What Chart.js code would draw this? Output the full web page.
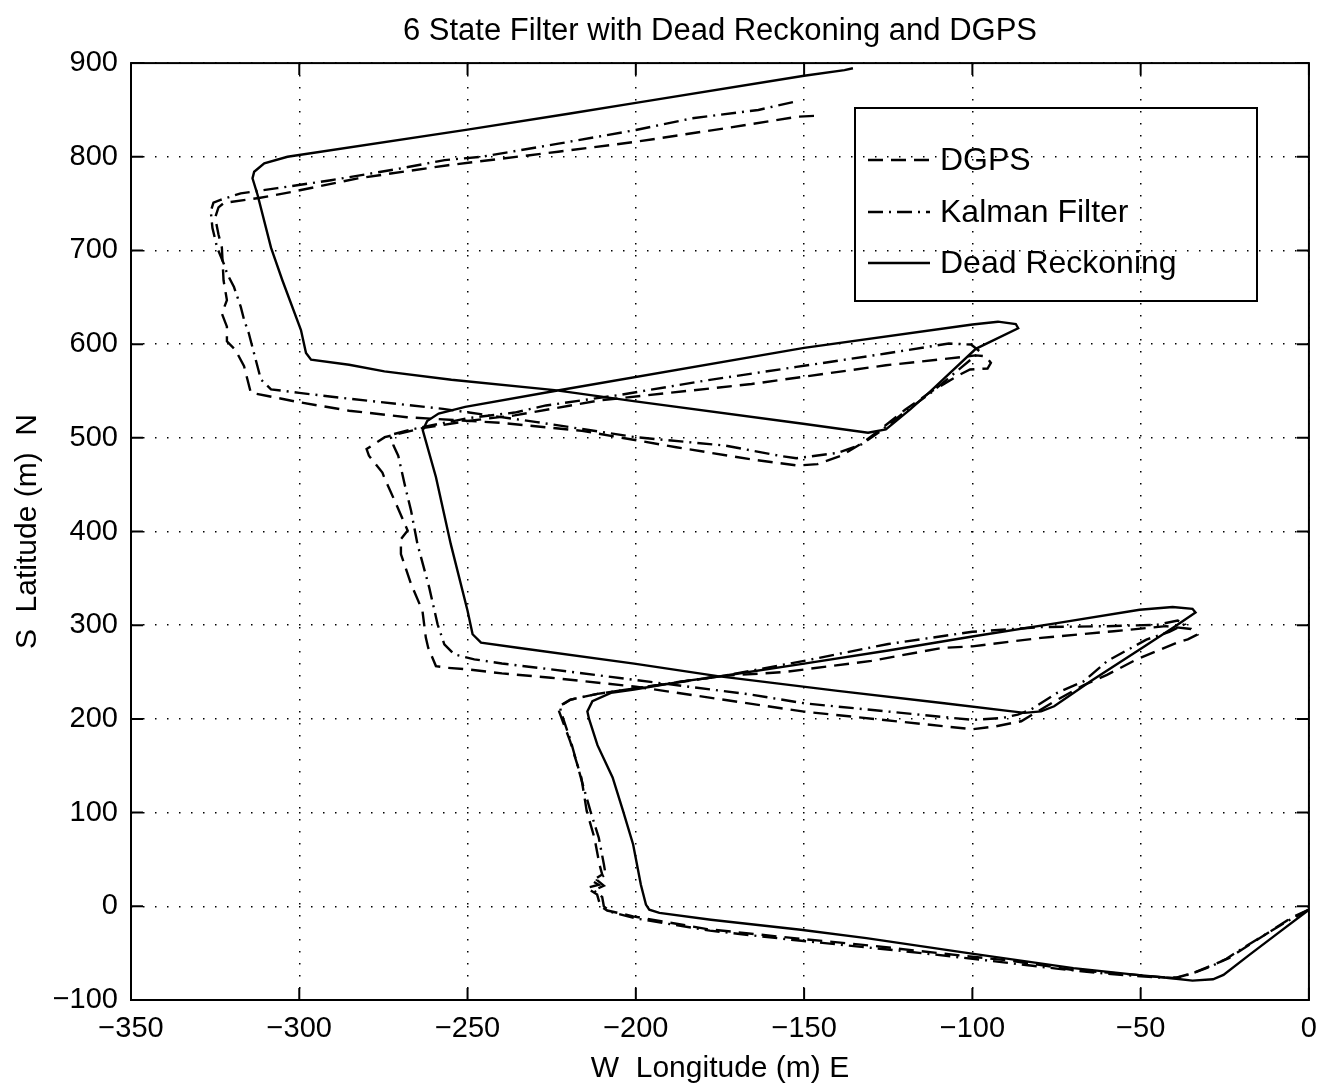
<!DOCTYPE html>
<html>
<head>
<meta charset="utf-8">
<title>6 State Filter with Dead Reckoning and DGPS</title>
<script src="https://cdn.jsdelivr.net/npm/chart.js@4.4.1/dist/chart.umd.min.js"></script>
<style>
  html, body { margin: 0; padding: 0; background: #fff; }
  #chart { display: block; }
</style>
</head>
<body>
<canvas id="chart" width="1329" height="1087"></canvas>
<script>
// Траектории, метры: X = долгота (W..E), Y = широта (S..N)
const seriesLabels = ['DGPS', 'Kalman Filter', 'Dead Reckoning'];

const xTicks = [-350, -300, -250, -200, -150, -100, -50, 0];
const yTicks = [-100, 0, 100, 200, 300, 400, 500, 600, 700, 800, 900];

// DGPS (штрих)
const dgpsX = [0, -5.4, -11.5, -17.7, -23.8, -28.5, -34.6, -39.2, -42.3, -55, -70, -88.5, -100.8, -130, -153, -178.8, -200.8, -208.5, -210.5, -211.5, -214.6, -211, -213, -210, -210.8, -212.3, -214.6, -216.2, -219.5, -222.8, -223, -219.5, -211.4, -202.5, -185.6, -174, -156, -130, -109, -100, -79.6, -58, -42.5, -35, -33.2, -36, -39.5, -51.3, -60, -67, -75, -85.5, -92.9, -100, -150, -200, -225.2, -239.8, -250, -256, -259.4, -261.7, -262.4, -263.4, -266.8, -269.8, -269.8, -267.8, -270.8, -274.8, -275.3, -279.3, -280, -274.6, -264, -250, -236, -210.8, -185, -165.6, -125.7, -116.4, -99, -96, -94.5, -95.5, -100.7, -104, -112, -120, -127, -132.3, -139, -146, -152, -165.6, -188, -216, -240, -268, -285.2, -300, -309.4, -314.4, -315.4, -316.4, -319, -321.5, -321.5, -323, -321.5, -322.5, -323, -324, -325, -324, -322.4, -312, -302.5, -282.6, -255.8, -223.1, -200, -173.5, -151.6, -144.7];
const dgpsY = [-3.6, -12.5, -26.8, -41, -55.4, -62.5, -71.4, -76, -76, -72, -68, -58, -53.6, -42, -34, -24.3, -10.7, -4.5, 0, 12.5, 19.6, 23, 27, 34, 44.6, 73, 101.8, 137.5, 176, 208, 213, 220.5, 226.8, 231.4, 240, 246, 250, 262, 275.8, 277.5, 286.5, 293.6, 299, 296, 290, 285, 281, 263.3, 247, 236, 220, 197.5, 192.2, 189, 207.8, 234.4, 244, 248.6, 252.9, 254.6, 256.4, 276, 286.8, 315.4, 344, 376, 392, 401, 426, 458.2, 463, 481, 488, 500.7, 510, 518, 524, 540, 550, 557.5, 577.5, 581, 588, 587, 580, 574, 573, 567, 550, 530, 510, 495.4, 481, 472, 470.5, 477, 490, 507.5, 516, 522, 529, 538, 544.7, 548.2, 562.3, 576.4, 594, 603, 618.7, 632.7, 647, 668, 703, 717, 735, 746, 750.7, 756, 762.3, 777, 791, 805.4, 816, 830.4, 842.9, 844];

// Фильтр Калмана (штрих-пунктир)
const kalmanX = [0, -6, -12, -18.5, -24.5, -29, -35, -39.5, -45, -60, -75, -95, -120, -153, -178, -200, -207.5, -209.5, -210, -212.5, -209.5, -211.5, -209, -209.5, -211, -213.5, -216.3, -219.3, -222.3, -222.5, -219.3, -211.4, -202.5, -185.6, -174, -150, -125, -100, -80, -60, -45, -39, -37, -41.5, -48.3, -60, -67, -74.8, -82.6, -86.5, -91, -100, -150, -165.8, -200, -225.2, -239.8, -248, -254, -256.9, -258.9, -261.4, -264.9, -266.8, -268.6, -270.6, -272, -273, -266, -250, -236, -226.7, -205.5, -178.9, -152.3, -125.7, -107, -100.4, -97.7, -103, -112, -120, -127, -133, -140, -152.3, -157.6, -173.5, -200, -229.4, -257.3, -285.2, -300, -308.4, -311.4, -315, -316.4, -317.4, -319.4, -321.4, -322.4, -324.4, -325.8, -326.3, -325.5, -323.4, -317.4, -306.5, -290.6, -269.7, -256.8, -245.8, -223, -200, -183.4, -163.6, -152.6];
const kalmanY = [-3.6, -15, -28, -42, -56, -64, -72, -76.5, -76, -72, -66.5, -58, -48, -36, -26, -13, -6, 0, 10, 17, 22, 28, 34, 45, 73, 101.8, 136.8, 176, 208.2, 213.6, 220.7, 226.8, 231.4, 240.4, 246, 262, 280, 293, 298, 299, 300.5, 305, 301, 293, 284.7, 261.6, 240, 227.8, 210, 204.6, 201, 199, 216.7, 226, 241.5, 252.9, 259.2, 263.6, 269, 279.6, 301, 340.4, 386.8, 422.5, 449, 481, 491.8, 503, 509.5, 521, 527, 534.6, 545.4, 561.4, 575.7, 590, 600.7, 599.6, 592, 576, 549, 528, 508, 493, 484, 478.2, 481, 491.8, 500.7, 516.8, 531, 541.8, 548, 551.8, 562.3, 611.6, 626, 640, 661, 675, 685.6, 703, 724, 742, 751, 754, 761, 766.5, 775, 787.7, 796.5, 800, 814, 828.6, 841, 850, 859];

// Счисление пути (сплошная)
const deadX = [0, -8.5, -17.7, -25.4, -28.5, -34.6, -40.8, -51.2, -70, -101.2, -131.5, -151, -177.7, -193, -196, -197, -198.5, -200.8, -203.8, -206.9, -211.4, -213.9, -214.4, -212.9, -207.4, -200.5, -185.6, -174.8, -150, -125, -100, -73.5, -50.3, -40.5, -34.6, -33.7, -40.5, -50.3, -65, -75.7, -79.6, -84.5, -109, -140, -175.7, -200.5, -235.1, -246, -248.5, -250, -255, -259.4, -263.3, -262, -258.6, -250.7, -224.1, -150, -100, -92.4, -87.1, -86.4, -99, -112.4, -118.3, -125.7, -131, -150.3, -200.1, -224.1, -254.8, -274.7, -285.2, -296.5, -298, -299.5, -305, -308.4, -312.4, -313.9, -313.4, -310.4, -303.5, -250, -220, -200, -150, -138, -135.5];
const deadY = [-3.6, -26.8, -51.8, -73.2, -77.9, -79.3, -76.8, -73.2, -66, -50, -34, -25, -14.3, -7, -3.6, 1.8, 23, 66, 101.8, 137.5, 172, 200, 208, 219, 227.9, 231.4, 240.4, 245.6, 259, 273, 288, 303, 316.5, 319.5, 317.5, 313.5, 297, 274, 240, 213.5, 208, 206.5, 217, 230, 245.7, 259, 276, 281.4, 290.4, 315.4, 386.8, 458.2, 508, 518, 526, 533, 550, 596, 621, 624, 621.5, 617, 595, 550, 531, 509, 505.4, 515, 539, 551, 562, 571, 578, 583.5, 590.5, 615, 668, 703, 759.5, 777, 784, 793, 800, 829, 846, 857.5, 886.5, 892.5, 894.5];

const toPoints = (xs, ys) => xs.map((x, i) => ({ x: x, y: ys[i] }));

const DASH = [15, 8];
const DASH_DOT = [15, 6, 2, 6];
const FONT = "'Liberation Sans', Arial, Helvetica, sans-serif";

const minus = v => (v < 0 ? '\u2212' + Math.abs(v) : String(v));

// Рамка с внутренними засечками, как в MATLAB
const framePlugin = {
    id: 'frame',
    afterDatasetsDraw(chart) {
        const { ctx, chartArea: a, scales } = chart;
        const t = 12;
        ctx.save();
        ctx.setLineDash([]);
        ctx.strokeStyle = '#000';
        ctx.lineWidth = 2;
        ctx.strokeRect(a.left, a.top, a.right - a.left, a.bottom - a.top);
        ctx.beginPath();
        xTicks.forEach(v => {
            const px = scales.x.getPixelForValue(v);
            ctx.moveTo(px, a.bottom); ctx.lineTo(px, a.bottom - t);
            ctx.moveTo(px, a.top); ctx.lineTo(px, a.top + t);
        });
        yTicks.forEach(v => {
            const py = scales.y.getPixelForValue(v);
            ctx.moveTo(a.left, py); ctx.lineTo(a.left + t, py);
            ctx.moveTo(a.right, py); ctx.lineTo(a.right - t, py);
        });
        ctx.stroke();
        ctx.restore();
    }
};

// Легенда внутри области графика
const legendBoxPlugin = {
    id: 'legendBox',
    afterDatasetsDraw(chart) {
        const { ctx } = chart;
        const box = { x: 855, y: 108, w: 402, h: 193 };
        const rows = [160, 212, 263];
        ctx.save();
        ctx.strokeStyle = '#000';
        ctx.lineWidth = 2;
        ctx.setLineDash([]);
        ctx.strokeRect(box.x, box.y, box.w, box.h);
        chart.data.datasets.forEach((ds, i) => {
            ctx.beginPath();
            ctx.setLineDash(ds.borderDash || []);
            ctx.lineWidth = ds.borderWidth;
            ctx.moveTo(868, rows[i]);
            ctx.lineTo(930, rows[i]);
            ctx.stroke();
            ctx.setLineDash([]);
            ctx.fillStyle = '#000';
            ctx.font = '32px ' + FONT;
            ctx.textAlign = 'left';
            ctx.textBaseline = 'middle';
            ctx.fillText(ds.label, 940, rows[i] + 1);
        });
        ctx.restore();
    }
};

Chart.defaults.font.family = FONT;
Chart.defaults.color = '#000';

const ctx = document.getElementById('chart').getContext('2d');
const chart = new Chart(ctx, {
    type: 'scatter',
    data: {
        datasets: [
            { label: seriesLabels[0], data: toPoints(dgpsX, dgpsY), borderDash: DASH },
            { label: seriesLabels[1], data: toPoints(kalmanX, kalmanY), borderDash: DASH_DOT },
            { label: seriesLabels[2], data: toPoints(deadX, deadY), borderDash: [] }
        ].map(ds => Object.assign(ds, {
            showLine: true,
            pointRadius: 0,
            pointHoverRadius: 0,
            borderColor: '#000',
            backgroundColor: '#000',
            borderWidth: 2.4,
            tension: 0,
            fill: false
        }))
    },
    options: {
        responsive: false,
        animation: false,
        devicePixelRatio: 1,
        layout: { padding: { left: 0, right: 16, top: 0, bottom: 0 } },
        plugins: {
            legend: { display: false },
            tooltip: { enabled: false },
            title: {
                display: true,
                fullSize: false,
                text: '6 State Filter with Dead Reckoning and DGPS',
                color: '#000',
                font: { size: 31, weight: 'normal', lineHeight: 1.1 },
                padding: { top: 14, bottom: 15 }
            }
        },
        scales: {
            x: {
                type: 'linear',
                min: -350,
                max: 0,
                afterBuildTicks: s => { s.ticks = xTicks.map(v => ({ value: v })); },
                afterFit: s => { s.height = 87; },
                ticks: { font: { size: 29 }, color: '#000', padding: 12, callback: minus },
                grid: { color: '#000', lineWidth: 1.5, drawTicks: false },
                border: { display: false, dash: [1.5, 10.5] },
                title: {
                    display: true,
                    text: 'W  Longitude (m) E',
                    font: { size: 30 },
                    color: '#000',
                    padding: { top: 8, bottom: 0 }
                }
            },
            y: {
                type: 'linear',
                min: -100,
                max: 900,
                afterBuildTicks: s => { s.ticks = yTicks.map(v => ({ value: v })); },
                afterFit: s => { s.width = 131; },
                ticks: { font: { size: 29 }, color: '#000', padding: 13, callback: minus },
                grid: { color: '#000', lineWidth: 1.5, drawTicks: false },
                border: { display: false, dash: [1.5, 10.5] },
                title: {
                    display: true,
                    text: 'S  Latitude (m)  N',
                    font: { size: 30 },
                    color: '#000',
                    padding: { top: 10, bottom: 0 }
                }
            }
        }
    },
    plugins: [framePlugin, legendBoxPlugin]
});
</script>
</body>
</html>
